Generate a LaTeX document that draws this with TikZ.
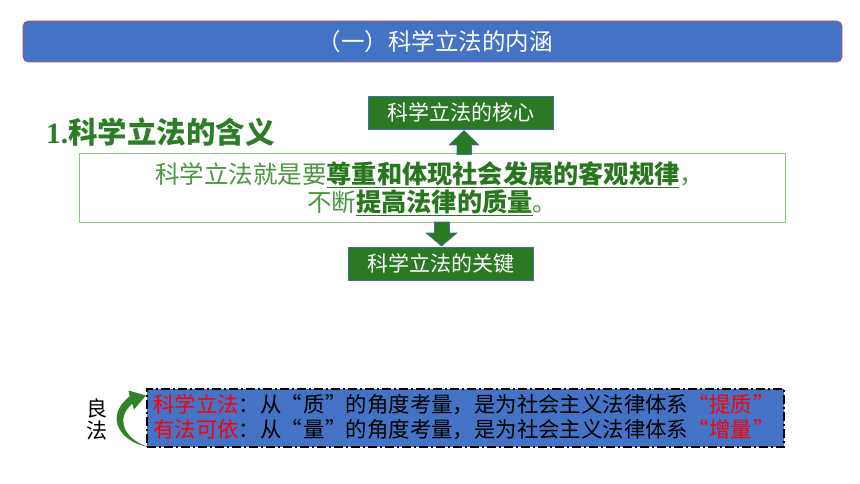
\documentclass[tikz,border=0pt]{standalone}
\usepackage{fontspec}
\setmainfont[Kerning=Off]{Noto Sans CJK SC}
\newfontfamily\latinserif{Liberation Serif}
\usetikzlibrary{positioning}
\definecolor{titleblue}{RGB}{68,114,196}
\definecolor{titleedge}{RGB}{192,80,77}
\definecolor{headgreen}{RGB}{45,125,40}
\definecolor{lightgreen}{RGB}{75,150,65}
\definecolor{darkgreen}{RGB}{40,118,30}
\definecolor{boxedge}{RGB}{140,195,130}
\definecolor{blockgreen}{RGB}{43,122,35}
\definecolor{blockedge}{RGB}{65,113,156}
\definecolor{curvegreen}{RGB}{50,130,40}
\newlength\cw \setlength\cw{21.4pt}
\newcommand{\ul}[1]{\underline{#1}}
\newcommand{\qL}{\makebox[\cw][r]{“\hspace*{1pt}}}
\newcommand{\qR}{\makebox[\cw][l]{\hspace*{1pt}”}}
\newcommand{\fwc}{\makebox[\cw][c]{：}}
\newcommand{\fwm}{\makebox[\cw][l]{，}}
\newcommand{\boldpart}[1]{{\fontsize{25.2}{28}\selectfont\bfseries\color{darkgreen}\ul{#1}}}
\tikzset{
  titlebar/.style={draw=titleedge, line width=0.6pt, fill=titleblue, rounded corners=5pt,
    minimum width=819, minimum height=41, inner sep=0pt},
  greenbox/.style={draw=blockedge, line width=0.8pt, fill=blockgreen, text=white,
    minimum width=185, minimum height=33, inner sep=0pt, font=\fontsize{21}{24}\selectfont},
  mainbox/.style={draw=boxedge, line width=1pt, fill=white, minimum width=706, minimum height=68, inner sep=0pt},
  blockarrow/.style={draw=blockedge, line width=0.6pt, fill=blockgreen},
  bluebox/.style={draw=black, line width=1.6pt, dash pattern=on 9pt off 3pt on 2pt off 3pt,
    fill=titleblue, minimum width=637, minimum height=58, inner sep=0pt},
  bline/.style={anchor=west, inner sep=0pt, font=\fontsize{21.4}{24}\selectfont},
  mline/.style={inner sep=0pt, font=\fontsize{24.5}{28}\selectfont, text=lightgreen},
}
\begin{document}
\begin{tikzpicture}[x=1pt, y=-1pt]
\useasboundingbox (0,0) rectangle (860,484);
% title bar
\node[titlebar] (title) at (432.5,41.5) {};
\node[text=white, inner sep=0pt, font=\fontsize{23.5}{26}\selectfont] (titletext) at (435,42) {（一）科学立法的内涵};
% heading
\node[anchor=west, inner sep=0pt, text=headgreen, font=\fontsize{29.5}{32}\selectfont\bfseries] (heading) at (46,132)
  {{\latinserif 1.}科学立法的含义};
% main box
\node[mainbox] (main) at (432,188) {};
\node[mline, anchor=west] (l1) at (155,175)
  {科学立法就是要\boldpart{尊重和体现社会发展的客观规律}，};
\node[mline, anchor=west] (l2) at (307,203)
  {不断\boldpart{提高法律的质量}。};
% green boxes
\node[greenbox] (core) at (461,112.5) {科学立法的核心};
\node[greenbox] (key) at (441,263.5) {科学立法的关键};
% up arrow (main -> core)
\draw[blockarrow] (457,154.5) -- (457,145) -- (449,145) -- (464,130.5) -- (479,145) -- (471.5,145) -- (471.5,154.5) -- cycle;
% down arrow (main -> key)
\draw[blockarrow] (434.5,222) -- (434.5,233) -- (426,233) -- (441.5,246) -- (457,233) -- (449.5,233) -- (449.5,222) -- cycle;
% bottom blue box
\node[bluebox] (bottom) at (465.5,418) {};
\node[bline] (b1) at (153,405)
  {\color{red}科学立法\color{black}\fwc 从\qL 质\qR 的角度考量\fwm 是为社会主义法律体系\color{red}\qL 提质\qR};
\node[bline] (b2) at (153,430)
  {\color{red}有法可依\color{black}\fwc 从\qL 量\qR 的角度考量\fwm 是为社会主义法律体系\color{red}\qL 增量\qR};
% 良法
\node[inner sep=0pt, font=\fontsize{21}{24}\selectfont] (liang) at (96.5,408) {良};
\node[inner sep=0pt, font=\fontsize{21}{24}\selectfont] (fa) at (96.5,431) {法};
% curved arrow
\fill[curvegreen] (149,447) .. controls (121,443) and (103,417) .. (129.8,396.2)
  -- (128.4,390.5) -- (146,395.5) -- (134,409.5) -- (132.2,403.8)
  .. controls (115,418) and (124,440) .. (149,447) -- cycle;
\end{tikzpicture}
\end{document}
